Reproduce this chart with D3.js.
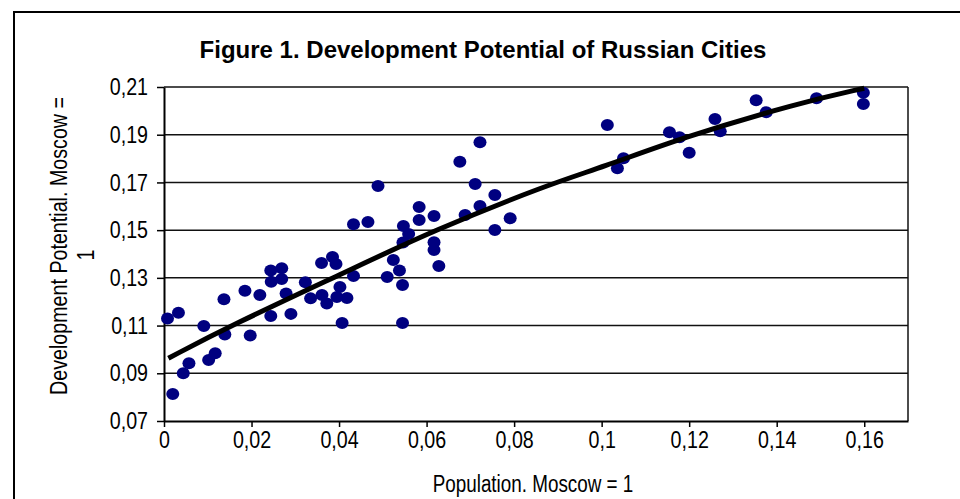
<!DOCTYPE html>
<html>
<head>
<meta charset="utf-8">
<script src="https://cdn.jsdelivr.net/npm/d3@7"></script>
<style>
  body { margin: 0; background: #fff; }
  text { font-family: "Liberation Sans", Arial, sans-serif; fill: #000; }
</style>
</head>
<body>
<div id="chart"></div>
<script>
// population share of each city (Moscow = 1)
const population = [
  0.0008, 0.0033, 0.0020, 0.0044, 0.0057, 0.0091, 0.0102, 0.0117, 0.0137, 0.0139,
  0.0185, 0.0197, 0.0219, 0.0244, 0.0269, 0.0245, 0.0269, 0.0244, 0.0279, 0.0290,
  0.0323, 0.0335, 0.0360, 0.0385, 0.0393, 0.0361, 0.0372, 0.0407, 0.0433, 0.0402,
  0.0395, 0.0418, 0.0433, 0.0466, 0.0489, 0.0510, 0.0524, 0.0538, 0.0545, 0.0545,
  0.0547, 0.0559, 0.0546, 0.0583, 0.0583, 0.0617, 0.0617, 0.0617, 0.0628, 0.0676,
  0.0722, 0.0711, 0.0756, 0.0722, 0.0688, 0.0791, 0.0756, 0.1013, 0.1036, 0.1050,
  0.1155, 0.1178, 0.1200, 0.1259, 0.1271, 0.1353, 0.1376, 0.1491, 0.1598, 0.1598
];
// development potential (Moscow = 1)
const potential = [
  0.1130, 0.1154, 0.0813, 0.0900, 0.0942, 0.1098, 0.0956, 0.0984, 0.1210, 0.1063,
  0.1246, 0.1058, 0.1228, 0.1331, 0.1340, 0.1284, 0.1295, 0.1140, 0.1234, 0.1149,
  0.1282, 0.1214, 0.1362, 0.1387, 0.1358, 0.1228, 0.1193, 0.1111, 0.1308, 0.1262,
  0.1220, 0.1216, 0.1525, 0.1534, 0.1685, 0.1304, 0.1375, 0.1331, 0.1270, 0.1111,
  0.1517, 0.1484, 0.1448, 0.1597, 0.1543, 0.1559, 0.1449, 0.1417, 0.1350, 0.1787,
  0.1868, 0.1693, 0.1647, 0.1601, 0.1563, 0.1550, 0.1501, 0.1941, 0.1759, 0.1801,
  0.1910, 0.1889, 0.1824, 0.1966, 0.1914, 0.2044, 0.1994, 0.2053, 0.2076, 0.2029
];
// trend line
const trendPopulation = [0.001, 0.015, 0.0425, 0.061, 0.088, 0.1, 0.118, 0.145, 0.16];
const trendPotential = [0.0963, 0.1098, 0.1333, 0.1494, 0.1693, 0.1762, 0.1886, 0.2033, 0.2095];

const xTicks = [0, 0.02, 0.04, 0.06, 0.08, 0.1, 0.12, 0.14, 0.16];
const yTicks = [0.07, 0.09, 0.11, 0.13, 0.15, 0.17, 0.19, 0.21];

const width = 960, height = 499;
const plot = { left: 164, right: 908, top: 87, bottom: 421 };
const squeeze = 0.82; // the chart's text is set narrow
const fontSize = 24;

const svg = d3.select("#chart").append("svg")
  .attr("width", width)
  .attr("height", height);

// outer chart border (runs off the page right and bottom)
svg.append("rect")
  .attr("x", 14).attr("y", 12)
  .attr("width", 1000).attr("height", 600)
  .attr("fill", "none").attr("stroke", "#000").attr("stroke-width", 2);

const x = d3.scaleLinear().domain([0, 0.17]).range([plot.left, plot.right]);
const y = d3.scaleLinear().domain([0.07, 0.21]).range([plot.bottom, plot.top]);

const fmt = d3.formatLocale({ decimal: ",", thousands: " ", grouping: [3], currency: ["", ""] }).format(".2~f");

// gridlines
svg.append("g").selectAll("line")
  .data(yTicks.slice(1))
  .join("line")
  .attr("x1", plot.left).attr("x2", plot.right)
  .attr("y1", d => y(d)).attr("y2", d => y(d))
  .attr("stroke", "#111").attr("stroke-width", 1.5);

// right frame
svg.append("line")
  .attr("x1", plot.right).attr("x2", plot.right)
  .attr("y1", plot.top).attr("y2", plot.bottom)
  .attr("stroke", "#111").attr("stroke-width", 1.5);

// axes
const xAxis = svg.append("g")
  .attr("transform", `translate(0,${plot.bottom})`)
  .call(d3.axisBottom(x).tickValues(xTicks).tickFormat(fmt).tickSize(6).tickPadding(4).tickSizeOuter(0));
const yAxis = svg.append("g")
  .attr("transform", `translate(${plot.left},0)`)
  .call(d3.axisLeft(y).tickValues(yTicks).tickFormat(fmt).tickSize(7).tickPadding(9).tickSizeOuter(0));

[xAxis, yAxis].forEach(a => {
  a.select(".domain").attr("stroke", "#000").attr("stroke-width", 2);
  a.selectAll(".tick line").attr("stroke", "#000").attr("stroke-width", 1.5);
  a.selectAll("text")
    .attr("font-size", fontSize)
    .attr("font-family", "Liberation Sans, Arial, sans-serif")
    .attr("fill", "#000");
});
xAxis.selectAll("text").attr("transform", `scale(${squeeze},1)`);
yAxis.selectAll("text").attr("x", -16 / squeeze).attr("transform", `scale(${squeeze},1)`);

// points
const cities = population.map((p, i) => ({ p, v: potential[i] }));
svg.append("g").selectAll("ellipse")
  .data(cities)
  .join("ellipse")
  .attr("cx", d => x(d.p))
  .attr("cy", d => y(d.v))
  .attr("rx", 6.5).attr("ry", 6)
  .attr("fill", "#000080");

// trend line
const trend = trendPopulation.map((p, i) => [p, trendPotential[i]]);
svg.append("path")
  .datum(trend)
  .attr("fill", "none")
  .attr("stroke", "#000")
  .attr("stroke-width", 5)
  .attr("d", d3.line().x(d => x(d[0])).y(d => y(d[1])).curve(d3.curveBasis));

// titles
svg.append("text")
  .attr("x", 483).attr("y", 58)
  .attr("text-anchor", "middle")
  .attr("font-size", 24).attr("font-weight", "bold")
  .text("Figure 1. Development Potential of Russian Cities");

svg.append("text")
  .attr("text-anchor", "middle")
  .attr("font-size", 23)
  .attr("transform", `translate(533,492) scale(${squeeze},1)`)
  .text("Population. Moscow = 1");

svg.append("text")
  .attr("text-anchor", "middle")
  .attr("font-size", fontSize)
  .attr("transform", `translate(67,246) rotate(-90) scale(${squeeze},1)`)
  .text("Development Potential. Moscow =");
svg.append("text")
  .attr("text-anchor", "middle")
  .attr("font-size", fontSize)
  .attr("transform", `translate(94,255) rotate(-90) scale(${squeeze},1)`)
  .text("1");
</script>
</body>
</html>
